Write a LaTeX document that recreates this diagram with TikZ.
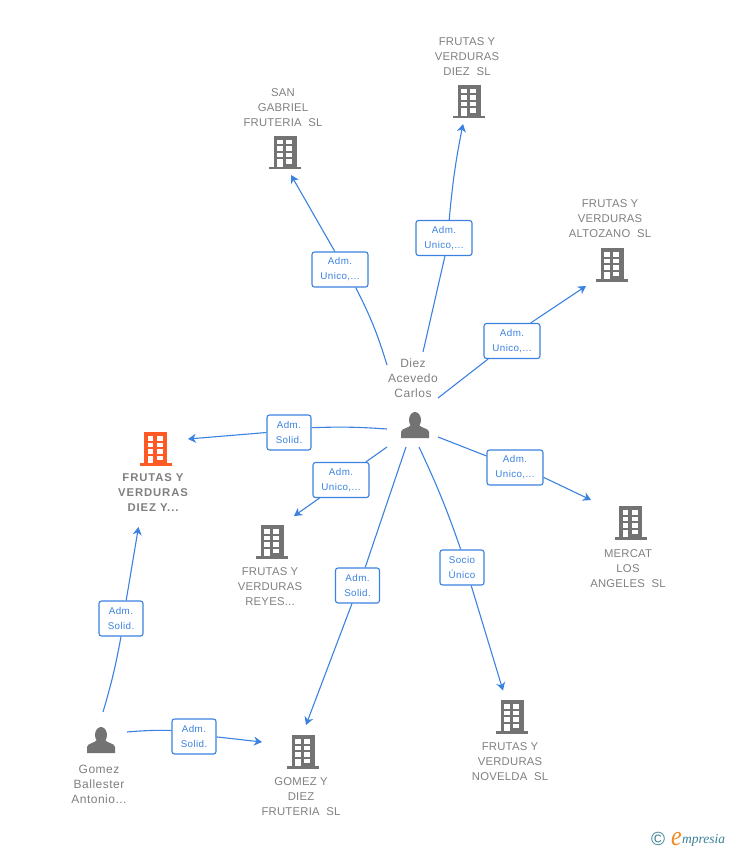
\documentclass[tikz,border=0pt]{standalone}
\usepackage{fontspec}
\setmainfont{Liberation Sans}
\newfontfamily\graylabel[LetterSpace=2]{Liberation Sans}
\newfontfamily\personlabel[LetterSpace=4]{Liberation Sans}
\newfontfamily\boldlabel[LetterSpace=8]{Liberation Sans Bold}
\newfontfamily\rolelabel[LetterSpace=4]{Liberation Sans}
\newfontfamily\logofont{Liberation Serif Italic}
\usetikzlibrary{positioning,shapes,arrows.meta}
\definecolor{linkblue}{HTML}{3B82E0}
\definecolor{icongray}{HTML}{737373}
\definecolor{textgray}{HTML}{7F7F7F}
\definecolor{iconred}{HTML}{FF5A26}
\definecolor{logoteal}{HTML}{3A7F95}
\definecolor{logoorange}{HTML}{F08A24}

\begin{document}
\begin{tikzpicture}[
  x=1pt,y=-1pt,
  company/.style={align=center,text=textgray,font=\graylabel\fontsize{11.3}{15}\selectfont,inner sep=0pt},
  person/.style={align=center,text=textgray,font=\personlabel\fontsize{12}{15}\selectfont,inner sep=0pt},
  maincompany/.style={align=center,text=textgray,font=\boldlabel\fontsize{11.3}{15}\selectfont,inner sep=0pt},
  rolebox/.style={draw=linkblue,fill=white,rounded corners=2.5pt,align=center,text=linkblue,
    font=\rolelabel\fontsize{9.8}{15}\selectfont,inner sep=0pt,line width=1.1pt},
  link/.style={color=linkblue,line width=1.1pt},
  arrowlink/.style={link,-{Stealth[length=8pt,width=9pt,inset=2.5pt]}},
  pics/buildingicon/.style={code={
    \fill[#1] (-11.5,0) rectangle (11.5,31);
    \fill[#1] (-16,31) rectangle (16,33.5);
    \foreach \rowy in {4,10.5,17}{
      \fill[white] (-8,\rowy) rectangle (-2.2,\rowy+4.5);
      \fill[white] (1.2,\rowy) rectangle (7,\rowy+4.5);
    }
    \fill[white] (-8,23.5) rectangle (-2.2,31);
    \fill[white] (1.2,23.5) rectangle (7,28);
  }},
  pics/personicon/.style={code={
    \fill[icongray] (0,9) ellipse (6 and 8);
    \fill[icongray] (-14,27) -- (-14,21) .. controls (-14,17.5) and (-6,17) .. (-4,14)
      -- (4,14) .. controls (6,17) and (14,17.5) .. (14,21) -- (14,27) -- cycle;
  }}
]
\useasboundingbox (0,0) rectangle (728,850);

% free ends of the links
\coordinate (fromSan) at (387,365);
\coordinate (fromDiez) at (423,352);
\coordinate (fromAlto) at (438,398);
\coordinate (fromMercat) at (438,437);
\coordinate (fromNovelda) at (419,447);
\coordinate (fromGomez) at (406,447);
\coordinate (fromReyes) at (387,447);
\coordinate (fromMain) at (387,429);
\coordinate (fromBallA) at (103,712);
\coordinate (fromBallB) at (127,732);
\coordinate (toSan) at (291,175);
\coordinate (toDiez) at (463,124);
\coordinate (toAlto) at (586,286);
\coordinate (toMercat) at (591,500);
\coordinate (toNovelda) at (503,690.5);
\coordinate (toGomez) at (306,725);
\coordinate (toReyes) at (294,516);
\coordinate (toMain) at (188,439);
\coordinate (toMainB) at (138.5,527);
\coordinate (toGomezB) at (262,742);

% role boxes
\node[rolebox,minimum width=56pt,minimum height=35pt] (roleSan) at (340,269.5) {Adm.\\Unico,...};
\node[rolebox,minimum width=56pt,minimum height=35pt] (roleDiez) at (444,238) {Adm.\\Unico,...};
\node[rolebox,minimum width=56pt,minimum height=35pt] (roleAlto) at (512,341) {Adm.\\Unico,...};
\node[rolebox,minimum width=56pt,minimum height=35pt] (roleMercat) at (515,467.5) {Adm.\\Unico,...};
\node[rolebox,minimum width=56pt,minimum height=35pt] (roleReyes) at (341,480) {Adm.\\Unico,...};
\node[rolebox,minimum width=44pt,minimum height=35pt] (roleMain) at (289,432.5) {Adm.\\Solid.};
\node[rolebox,minimum width=44pt,minimum height=35pt] (roleNovelda) at (462,567.5) {Socio\\Único};
\node[rolebox,minimum width=44pt,minimum height=35pt] (roleGomez) at (357.5,585.5) {Adm.\\Solid.};
\node[rolebox,minimum width=44pt,minimum height=35pt] (roleBallA) at (121,618.5) {Adm.\\Solid.};
\node[rolebox,minimum width=44pt,minimum height=35pt] (roleBallB) at (194,736.5) {Adm.\\Solid.};

% links
\path[link] (fromSan) edge[bend right=5] (roleSan.-49)
(fromDiez) edge (roleDiez.-87)
(fromAlto) edge (roleAlto.-143)
(fromMercat) edge (roleMercat.158)
(fromNovelda) edge[bend left=3] (roleNovelda.94)
(fromGomez) edge (roleGomez.67)
(fromReyes) edge (roleReyes.36)
(fromMain) edge[bend right=3] (roleMain.12)
(fromBallA) edge[bend right=3] (roleBallA.-90)
(fromBallB) edge[bend left=3] (roleBallB.165);
\path[arrowlink] (roleSan.106) edge (toSan)
(roleDiez.74) edge[bend left=3] (toDiez)
(roleAlto.44) edge (toAlto)
(roleMercat.-19) edge (toMercat)
(roleNovelda.-63) edge (toNovelda)
(roleGomez.-107) edge (toGomez)
(roleReyes.-140) edge (toReyes)
(roleMain.180) edge (toMain)
(roleBallA.74) edge (toMainB)
(roleBallB.-1) edge (toGomezB);

% companies
\pic (iconDiez) at (469,85) {buildingicon=icongray};
\pic (iconSan) at (285,136) {buildingicon=icongray};
\pic (iconAlto) at (612,248) {buildingicon=icongray};
\pic (iconMain) at (155.5,432) {buildingicon=iconred};
\pic (iconReyes) at (272,525) {buildingicon=icongray};
\pic (iconMercat) at (630.5,506) {buildingicon=icongray};
\pic (iconNovelda) at (512,700) {buildingicon=icongray};
\pic (iconGomez) at (303,735) {buildingicon=icongray};

\node[company] (nameDiez) at (467,57) {FRUTAS Y\\VERDURAS\\DIEZ\ \ SL};
\node[company] (nameSan) at (283,108) {SAN\\GABRIEL\\FRUTERIA\ \ SL};
\node[company] (nameAlto) at (610,219) {FRUTAS Y\\VERDURAS\\ALTOZANO\ \ SL};
\node[maincompany] (nameMain) at (153,492.5) {FRUTAS Y\\VERDURAS\\DIEZ Y...};
\node[company] (nameReyes) at (270,587) {FRUTAS Y\\VERDURAS\\REYES...};
\node[company] (nameMercat) at (628,569) {MERCAT\\LOS\\ANGELES\ \ SL};
\node[company] (nameNovelda) at (510,762) {FRUTAS Y\\VERDURAS\\NOVELDA\ \ SL};
\node[company] (nameGomez) at (301,797) {GOMEZ Y\\DIEZ\\FRUTERIA\ \ SL};

% persons
\pic (iconCarlos) at (415,411) {personicon};
\pic (iconBall) at (101,726) {personicon};
\node[person] (nameCarlos) at (413,378) {Diez\\Acevedo\\Carlos};
\node[person] (nameBall) at (99,784) {Gomez\\Ballester\\Antonio...};

% logo
\node[inner sep=0pt,text=logoteal,font=\fontsize{19}{19}\selectfont] (logoCopy) at (658,839) {\textcopyright};
\node[inner sep=0pt,anchor=base west,text=logoorange,font=\logofont\fontsize{28}{28}\selectfont] (logoE) at (671,845) {\scalebox{.85}[1]{e}};
\node[inner sep=0pt,anchor=base west,text=logoteal,font=\logofont\fontsize{13.5}{14}\selectfont] (logoName) at (682,843) {mpresia};
\end{tikzpicture}
\end{document}
